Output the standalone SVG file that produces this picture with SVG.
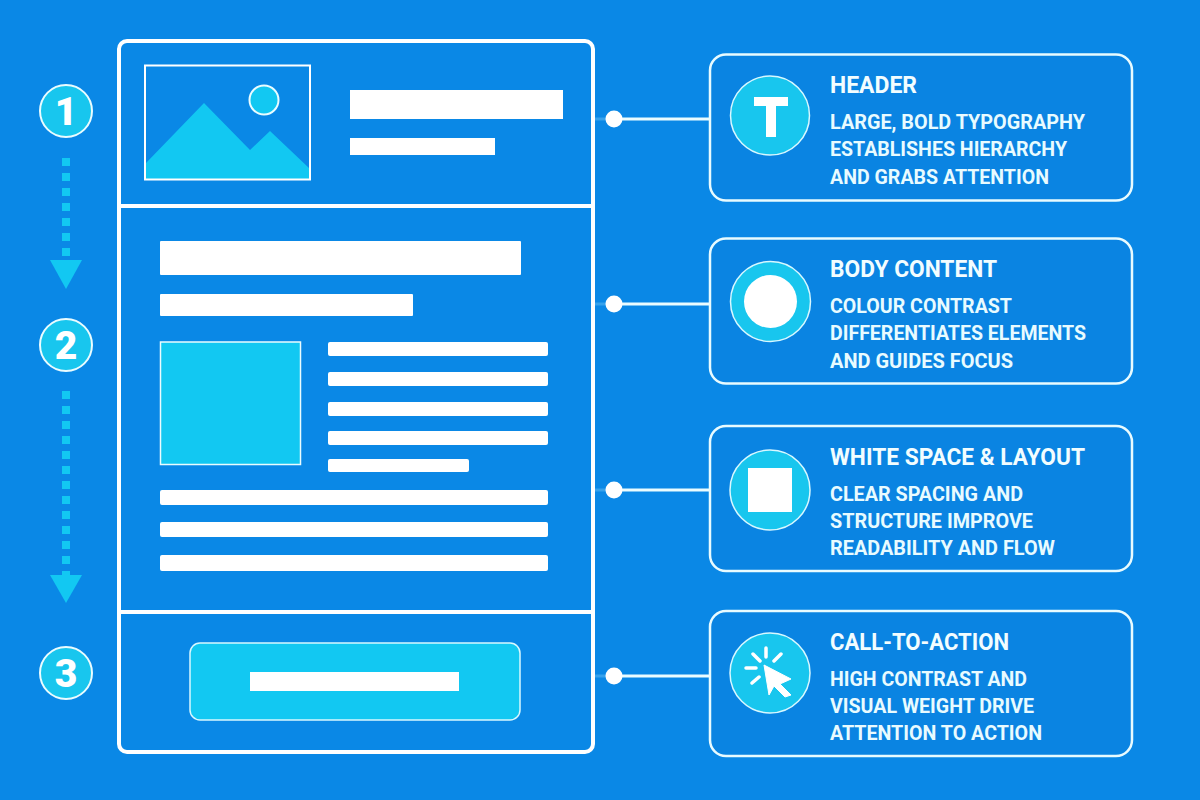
<svg xmlns="http://www.w3.org/2000/svg" width="1200" height="800" viewBox="0 0 1200 800">
<style>
.w{fill:#fff}
.c{fill:#12c8f2}
.ol{fill:none;stroke:#fff}
.card{fill:#0a84e2;stroke:#e8fbff;stroke-width:2.5}
.ic{fill:#18c6ee;stroke:#d8f8ff;stroke-width:1.5}
.num{fill:#18c6ee;stroke:#eafcff;stroke-width:2}
.nt{font-family:Roboto,"Liberation Sans",sans-serif;font-weight:900;font-size:39px;fill:#fff;text-anchor:middle}
.h{font-family:Roboto,"Liberation Sans",sans-serif;font-weight:700;font-size:23.5px;fill:#f2fdff}
.b{font-family:Roboto,"Liberation Sans",sans-serif;font-weight:700;font-size:21px;fill:#e8fbff}
.dash{stroke:#12c8f2;stroke-width:8;stroke-dasharray:8 7;fill:none}
.lk{stroke:#eafcff;stroke-width:3;fill:none}
.gl{stroke:#bfefff;stroke-width:3;fill:none;opacity:.25}
</style>
<rect width="1200" height="800" fill="#0a88e6"/>
<g id="page">
<rect x="119" y="41" width="474" height="711" rx="8" class="ol" stroke-width="4"/>
<path d="M119 206H593M119 612H593" class="ol" stroke-width="4"/>
</g>
<g id="header-section">
<path d="M146 163L204 103L250 150L270 131L309 168V179H146Z" class="c"/>
<rect x="145" y="65.500" width="165" height="114" class="ol" stroke-width="2"/>
<circle cx="264" cy="100" r="14.500" class="c" stroke="#eafcff" stroke-width="2"/>
<rect x="350" y="90" width="213" height="29" class="w"/>
<rect x="350" y="138" width="145" height="17" class="w"/>
</g>
<g id="body-section">
<rect x="160" y="241" width="361" height="34" rx="1" class="w"/>
<rect x="160" y="294" width="253" height="22" rx="1" class="w"/>
<rect x="160.500" y="342" width="140" height="122.500" class="c" stroke="#eafcff" stroke-width="1.500"/>
<rect x="328" y="342" width="220" height="14" rx="2" class="w"/>
<rect x="328" y="372" width="220" height="14" rx="2" class="w"/>
<rect x="328" y="402" width="220" height="14" rx="2" class="w"/>
<rect x="328" y="431" width="220" height="14" rx="2" class="w"/>
<rect x="328" y="459" width="141" height="13" rx="2" class="w"/>
<rect x="160" y="490" width="388" height="15" rx="2" class="w"/>
<rect x="160" y="522" width="388" height="15" rx="2" class="w"/>
<rect x="160" y="555" width="388" height="16" rx="2" class="w"/>
</g>
<g id="cta-section">
<rect x="190" y="643" width="330" height="77" rx="10" class="c" stroke="#d8f8ff" stroke-width="1.500"/>
<rect x="250" y="672" width="209" height="19" class="w"/>
</g>
<g id="step-1"><circle cx="66" cy="111" r="26" class="num"/><text x="66" y="125" class="nt">1</text></g>
<g id="step-2"><circle cx="66" cy="345" r="26" class="num"/><text x="66" y="359" class="nt">2</text></g>
<g id="step-3"><circle cx="66" cy="673" r="26" class="num"/><text x="66" y="687" class="nt">3</text></g>
<g id="connectors">
<path d="M66 158V262" class="dash"/>
<path d="M50 260H82L66 289Z" class="c"/>
<path d="M66 391V575" class="dash"/>
<path d="M50 575H82L66 603Z" class="c"/>
<path d="M595 119H606M595 304H606M595 490H606M595 676H606" class="gl"/>
<path d="M614 119H710" class="lk"/><circle cx="614" cy="119" r="8.500" class="w"/>
<path d="M614 304H710" class="lk"/><circle cx="614" cy="304" r="8.500" class="w"/>
<path d="M614 490H710" class="lk"/><circle cx="614" cy="490" r="8.500" class="w"/>
<path d="M614 676H710" class="lk"/><circle cx="614" cy="676" r="8.500" class="w"/>
</g>
<g id="card-header">
<rect x="710" y="54.500" width="422" height="146" rx="16" class="card"/>
<circle cx="770" cy="115.500" r="39.500" class="ic"/>
<path d="M754 97H788V106H776V137H766V106H754Z" class="w"/>
<text x="830" y="93" class="h" textLength="87" lengthAdjust="spacingAndGlyphs">HEADER</text>
<text x="830" y="129" class="b" textLength="255" lengthAdjust="spacingAndGlyphs">LARGE, BOLD TYPOGRAPHY</text>
<text x="830" y="156" class="b" textLength="237" lengthAdjust="spacingAndGlyphs">ESTABLISHES HIERARCHY</text>
<text x="830" y="184" class="b" textLength="219" lengthAdjust="spacingAndGlyphs">AND GRABS ATTENTION</text>
</g>
<g id="card-body">
<rect x="710" y="238.500" width="422" height="145" rx="16" class="card"/>
<circle cx="770.500" cy="301.500" r="40" class="ic"/>
<circle cx="770.500" cy="301.500" r="26.500" class="w"/>
<text x="830" y="277" class="h" textLength="167" lengthAdjust="spacingAndGlyphs">BODY CONTENT</text>
<text x="830" y="313" class="b" textLength="182" lengthAdjust="spacingAndGlyphs">COLOUR CONTRAST</text>
<text x="830" y="340" class="b" textLength="256" lengthAdjust="spacingAndGlyphs">DIFFERENTIATES ELEMENTS</text>
<text x="830" y="368" class="b" textLength="183" lengthAdjust="spacingAndGlyphs">AND GUIDES FOCUS</text>
</g>
<g id="card-layout">
<rect x="710" y="426" width="422" height="145" rx="16" class="card"/>
<circle cx="770" cy="490" r="40" class="ic"/>
<rect x="748" y="468" width="44" height="44" class="w"/>
<text x="830" y="465" class="h" textLength="255" lengthAdjust="spacingAndGlyphs">WHITE SPACE &amp; LAYOUT</text>
<text x="830" y="501" class="b" textLength="193" lengthAdjust="spacingAndGlyphs">CLEAR SPACING AND</text>
<text x="830" y="528" class="b" textLength="203" lengthAdjust="spacingAndGlyphs">STRUCTURE IMPROVE</text>
<text x="830" y="555" class="b" textLength="225" lengthAdjust="spacingAndGlyphs">READABILITY AND FLOW</text>
</g>
<g id="card-cta">
<rect x="710" y="611" width="422" height="145" rx="16" class="card"/>
<circle cx="770" cy="673" r="40" class="ic"/>
<path d="M764 665L791 679L780 684L791 695L785 697L774 686L769 695Z" class="w" stroke="#fff" stroke-linejoin="round"/>
<path d="M766 648V657M753 654L760 661M781 654L774 661M746 668H756M752 683L759 677" stroke="#fff" stroke-width="3.500" stroke-linecap="round" fill="none"/>
<text x="830" y="650" class="h" textLength="179" lengthAdjust="spacingAndGlyphs">CALL-TO-ACTION</text>
<text x="830" y="686" class="b" textLength="197" lengthAdjust="spacingAndGlyphs">HIGH CONTRAST AND</text>
<text x="830" y="713" class="b" textLength="204" lengthAdjust="spacingAndGlyphs">VISUAL WEIGHT DRIVE</text>
<text x="830" y="740" class="b" textLength="212" lengthAdjust="spacingAndGlyphs">ATTENTION TO ACTION</text>
</g>
</svg>
